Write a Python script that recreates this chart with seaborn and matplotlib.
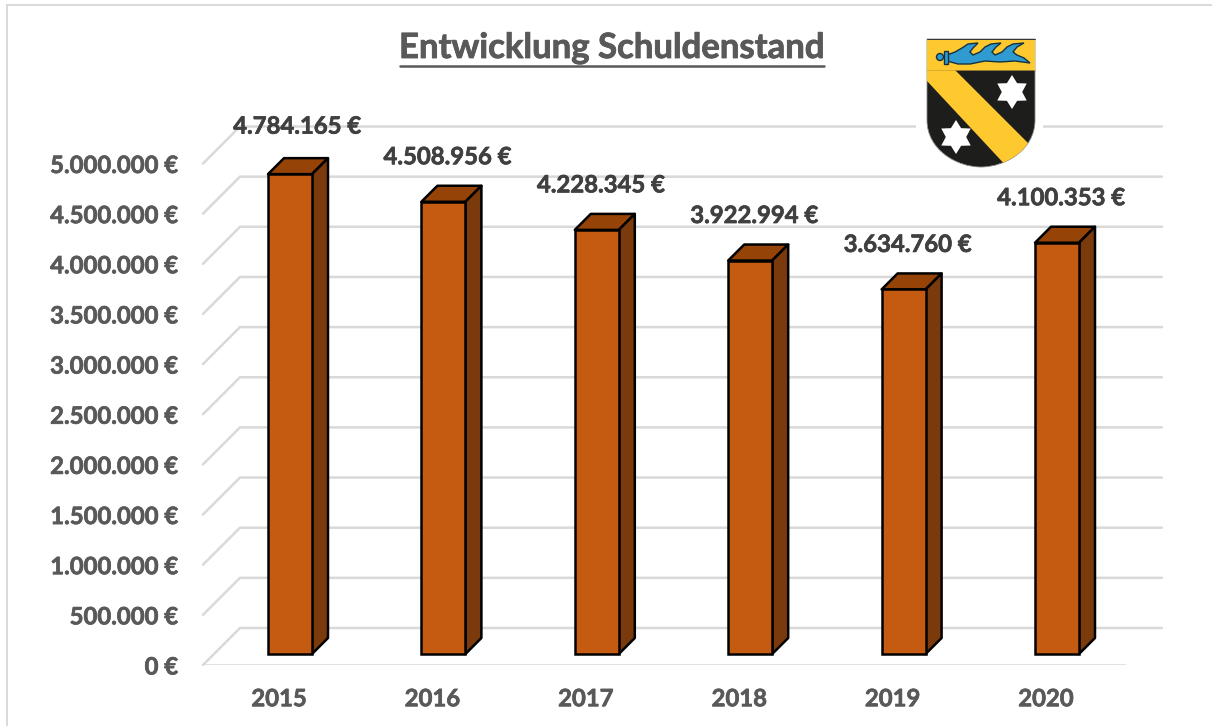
import matplotlib
matplotlib.use("Agg")
import matplotlib.pyplot as plt
import matplotlib.patheffects as pe
from matplotlib.patches import PathPatch, Polygon, Circle, Rectangle
from matplotlib.path import Path
import numpy as np
import pandas as pd
import seaborn as sns

years = ["2015", "2016", "2017", "2018", "2019", "2020"]
debt = [4784165, 4508956, 4228345, 3922994, 3634760, 4100353]
debt_labels = ["4.784.165 €", "4.508.956 €", "4.228.345 €", "3.922.994 €", "3.634.760 €", "4.100.353 €"]
tick_values = [0, 500000, 1000000, 1500000, 2000000, 2500000, 3000000, 3500000, 4000000, 4500000, 5000000]
tick_labels = ["0 €", "500.000 €", "1.000.000 €", "1.500.000 €", "2.000.000 €", "2.500.000 €",
               "3.000.000 €", "3.500.000 €", "4.000.000 €", "4.500.000 €", "5.000.000 €"]

W, H = 1212, 726
GRID = "#d9d9d9"
FRONT, TOP, SIDE = "#c55a11", "#964308", "#7b3a0b"
LABEL_SIZE = 17.2

sns.set_theme(style="white")
plt.rcParams["font.family"] = ["Lato", "DejaVu Sans"]
plt.rcParams["font.weight"] = "bold"

fig = plt.figure(figsize=(W / 100, H / 100), dpi=100, facecolor="white")


def thicken(text, color, width=0.5):
    # Lato bold is a bit lighter than the original font
    text.set_path_effects([pe.withStroke(linewidth=width, foreground=color)])


# pixel box of the plot, the fake 3d is all worked out from these scales
left, right, bottom, top = 203, 1162, 665, 70
ax = fig.add_axes([left / W, 1 - bottom / H, (right - left) / W, (bottom - top) / H])
px_x = 153.4          # pixels per category
px_y = 100.3e-6       # pixels per euro
x0_px, base_px = 290, 654
ax.set_xlim((left - x0_px) / px_x, (right - x0_px) / px_x)
ax.set_ylim((base_px - bottom) / px_y, (base_px - top) / px_y)
ax.patch.set_alpha(0)
sns.despine(ax=ax, left=True, bottom=True, right=True, top=True)

depth_x = 16 / px_x
depth_y = 16 / px_y
wall_x = 37 / px_x
wall_y = 37 / px_y
front_shift = (bottom - base_px) / px_y
xmin = ax.get_xlim()[0]
xmax = ax.get_xlim()[1]

data = pd.DataFrame({"year": years, "debt": debt})
sns.barplot(data=data, x="year", y="debt", ax=ax, color=FRONT, saturation=1, width=44 / px_x,
            edgecolor="black", linewidth=1.8, zorder=4)
ax.set_xlim(xmin, xmax)
ax.set_xlabel("")
ax.set_ylabel("")

# wall and floor lines
for v in tick_values:
    y = v - front_shift
    ax.plot([xmin, xmin + wall_x, xmax], [y, y + wall_y, y + wall_y], color=GRID, lw=1.8, zorder=1,
            solid_joinstyle="miter", clip_on=False)
ax.plot([xmin, xmax - wall_x], [-front_shift, -front_shift], color=GRID, lw=1.8, zorder=1)

# bar tops and sides
for bar in ax.patches:
    x1 = bar.get_x()
    x2 = x1 + bar.get_width()
    h = bar.get_height()
    ax.add_patch(Polygon([(x1, h), (x2, h), (x2 + depth_x, h + depth_y), (x1 + depth_x, h + depth_y)],
                         facecolor=TOP, edgecolor="black", lw=1.8, zorder=3, joinstyle="round"))
    ax.add_patch(Polygon([(x2, 0), (x2 + depth_x, depth_y), (x2 + depth_x, h + depth_y), (x2, h)],
                         facecolor=SIDE, edgecolor="black", lw=1.8, zorder=3, joinstyle="round"))

for i, (v, lab) in enumerate(zip(debt, debt_labels)):
    t = ax.annotate(lab, (i, v), xytext=(7 if i == 0 else 4, 48 if i == 0 else 45), textcoords="offset pixels",
                    ha="center", va="center", fontsize=LABEL_SIZE, color="#404040", fontweight="bold", zorder=6)
    thicken(t, "#404040")

ax.set_yticks([v - front_shift for v in tick_values], tick_labels)
ax.set_xticks([i - 11 / px_x for i in range(len(years))], years)
ax.tick_params(axis="y", length=0, pad=18, labelsize=LABEL_SIZE, labelcolor="#595959")
ax.tick_params(axis="x", length=0, pad=16, labelsize=LABEL_SIZE, labelcolor="#595959")
for t in ax.get_xticklabels() + ax.get_yticklabels():
    t.set_fontweight("bold")
    thicken(t, "#595959")

# overlay in image pixels: frame, title, coat of arms
ov = fig.add_axes([0, 0, 1, 1], zorder=5)
ov.set_xlim(0, W)
ov.set_ylim(H, 0)
ov.axis("off")
ov.patch.set_alpha(0)
ov.plot([7, 7, W], [H, 5, 5], color=GRID, lw=1.4, solid_joinstyle="miter")
title = ov.text(612, 48, "Entwicklung Schuldenstand", ha="center", va="center", fontsize=25,
                color="#595959", fontweight="bold")
thicken(title, "#595959", 0.6)
ov.plot([400, 824], [66, 66], color="#595959", lw=1.8)

ov.add_patch(Rectangle((916, 30), 127, 140, facecolor="white", edgecolor="none"))
shield_path = Path(
    [(927, 39), (1035, 39), (1035, 120), (1035, 150), (1005, 167), (981, 167), (957, 167), (927, 150), (927, 120), (927, 39)],
    [Path.MOVETO, Path.LINETO, Path.LINETO, Path.CURVE4, Path.CURVE4, Path.CURVE4, Path.CURVE4, Path.CURVE4, Path.CURVE4, Path.CLOSEPOLY],
)
shield = PathPatch(shield_path, facecolor="#1d1d1b", edgecolor="#8a8a8a", lw=0.6)
ov.add_patch(shield)
chief = Rectangle((927, 39), 108, 30.5, facecolor="#fec82f", edgecolor="none")
ov.add_patch(chief)
band = Polygon([(927, 70), (955, 70), (1040, 155), (1010, 170), (927, 81)], facecolor="#fec82f", edgecolor="none")
ov.add_patch(band)
band.set_clip_path(shield)
ov.plot([927, 1035], [39, 39], color="#333333", lw=0.7)
ov.plot([927, 1035], [69.5, 69.5], color="#c8a030", lw=0.5)


def star(cx, cy, r):
    ang = np.deg2rad(np.arange(0, 360, 30) - 90)
    rad = np.where(np.arange(12) % 2 == 0, r, r * 0.6)
    return np.c_[cx + rad * np.cos(ang), cy + rad * np.sin(ang)]


ov.add_patch(Polygon(star(1012, 92, 17), facecolor="white", edgecolor="none"))
ov.add_patch(Polygon(star(956, 137, 17), facecolor="white", edgecolor="none"))

wave = [(947, 55), (955, 52), (962, 48), (968, 44), (978, 43), (973, 48), (970, 52), (973, 55), (980, 52), (985, 47),
        (991, 44), (1001, 43), (996, 47), (992, 52), (995, 55), (1002, 52), (1007, 47), (1013, 44), (1024, 43), (1017, 47),
        (1013, 52), (1017, 55), (1024, 58), (1030, 63), (1015, 61), (1000, 62), (985, 61), (970, 64), (958, 64), (947, 61)]
ov.add_patch(Polygon(wave, facecolor="#2f9bd0", edgecolor="#16323f", lw=1.0))
ov.add_patch(Rectangle((944, 51), 3.5, 13, facecolor="#2f9bd0", edgecolor="#16323f", lw=1.0))
ov.add_patch(Circle((940, 57), 3.5, facecolor="#2f9bd0", edgecolor="#16323f", lw=1.0))

fig.savefig("out.png", dpi=100)
